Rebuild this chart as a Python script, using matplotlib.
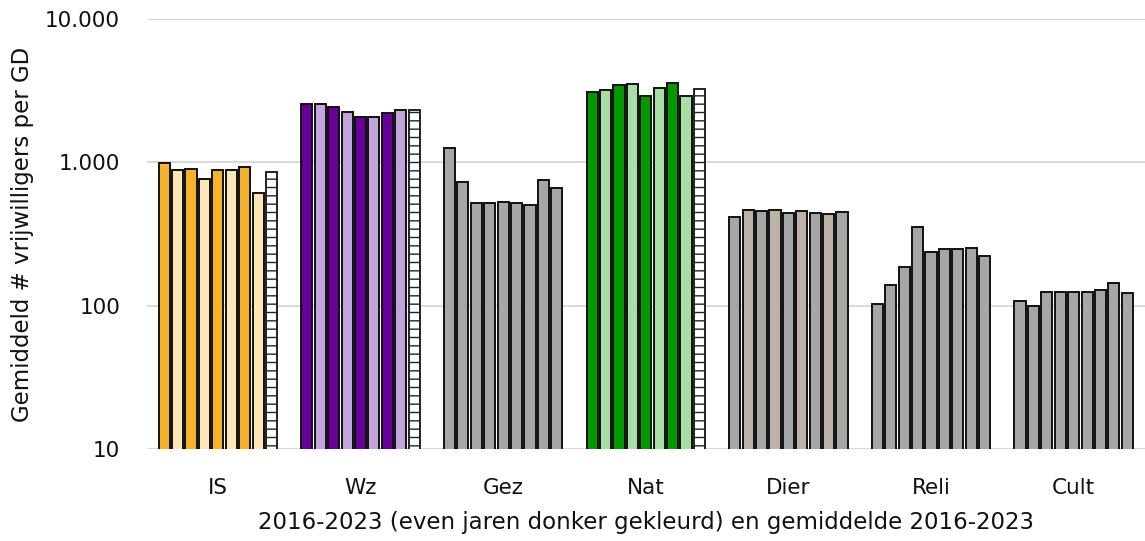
import numpy as np
import matplotlib
matplotlib.use('Agg')
import matplotlib.pyplot as plt
from matplotlib.ticker import FixedLocator, FixedFormatter, NullLocator

# ── Data ────────────────────────────────────────────────────────────────────────
categories = ['IS', 'Wz', 'Gez', 'Nat', 'Dier', 'Reli', 'Cult']
# 2016..2023 followed by the 2016-2023 average
is_vals   = [985, 885, 900, 766, 885, 885, 925, 609, 853]
wz_vals   = [2543, 2543, 2437, 2249, 2085, 2075, 2212, 2311, 2311]
gez_vals  = [1254, 733, 523, 523, 532, 518, 507, 757, 666]
nat_vals  = [3083, 3186, 3467, 3541, 2905, 3290, 3581, 2919, 3236]
dier_vals = [416, 468, 460, 468, 441, 458, 446, 436, 449]
reli_vals = [103, 139, 186, 356, 236, 250, 250, 253, 222]
cult_vals = [107, 99.5, 125, 125, 125, 125, 129, 145, 122]
series = [is_vals, wz_vals, gez_vals, nat_vals, dier_vals, reli_vals, cult_vals]

y_ticks = [10, 100, 1000, 10000]
y_tick_labels = ['10', '100', '1.000', '10.000']

# ── Styling ─────────────────────────────────────────────────────────────────────
GRAY = '#A6A6A6'
colours = {
    'IS':   ('#F5B22B', '#FDE6B8'),
    'Wz':   ('#67009A', '#C2A4DF'),
    'Gez':  (GRAY, GRAY),
    'Nat':  ('#009900', '#A9DFA6'),
    'Dier': (GRAY, '#BCB2A8'),
    'Reli': (GRAY, GRAY),
    'Cult': (GRAY, GRAY),
}
hatched_avg = {'IS', 'Wz', 'Nat'}

plt.rcParams['font.family'] = ['DejaVu Sans']
plt.rcParams['hatch.linewidth'] = 1.0

fig = plt.figure(figsize=(11.45, 5.41), dpi=100)
ax = fig.add_axes([0.128, 0.170, 0.872, 0.795])

pitch = 0.094
width = 0.078
n = 9
for i, (cat, vals) in enumerate(zip(categories, series)):
    dark, light = colours[cat]
    for j, v in enumerate(vals):
        x = i + (j - (n - 1) / 2) * pitch
        if j == n - 1:
            if cat in hatched_avg:
                ax.bar(x, v, width=width, bottom=0.001, color='white',
                       edgecolor='#222222', linewidth=1.4, hatch='--', zorder=3)
            else:
                ax.bar(x, v, width=width, bottom=0.001, color=GRAY,
                       edgecolor='#111111', linewidth=1.4, zorder=3)
        else:
            fc = dark if j % 2 == 0 else light
            ax.bar(x, v, width=width, bottom=0.001, color=fc,
                   edgecolor='#111111', linewidth=1.4, zorder=3)

ax.set_yscale('log')
ax.set_ylim(10, 10000)
ax.set_xlim(-0.5, len(categories) - 0.5)
ax.yaxis.set_major_locator(FixedLocator(y_ticks))
ax.yaxis.set_major_formatter(FixedFormatter(y_tick_labels))
ax.yaxis.set_minor_locator(NullLocator())
ax.set_xticks(range(len(categories)))
ax.set_xticklabels(categories)

ax.grid(axis='y', color='#D9D9D9', linewidth=1.5, zorder=0)
for s in ax.spines.values():
    s.set_visible(False)
ax.tick_params(axis='both', length=0, labelsize=15.5, colors='#111111')
ax.tick_params(axis='y', pad=19)
ax.tick_params(axis='x', pad=21)

ax.set_ylabel('Gemiddeld # vrijwilligers per GD', fontsize=16.5, color='#111111', labelpad=8)
ax.set_xlabel('2016-2023 (even jaren donker gekleurd) en gemiddelde 2016-2023',
              fontsize=16.5, color='#111111', labelpad=9)

fig.savefig('out.png', dpi=100)
